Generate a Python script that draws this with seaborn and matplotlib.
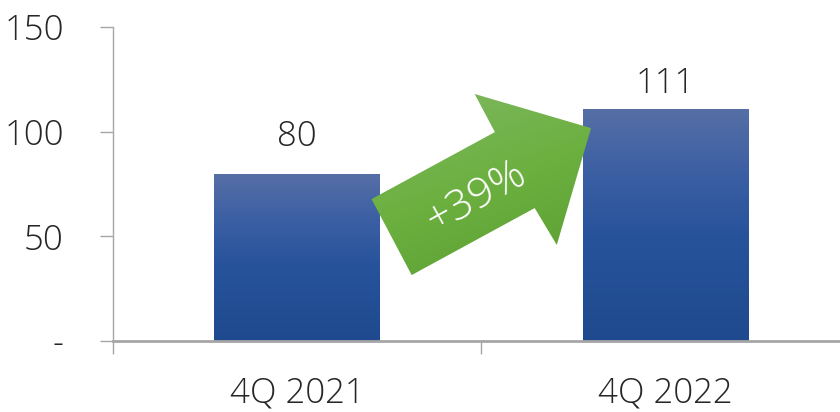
import numpy as np
import pandas as pd
import matplotlib
matplotlib.use("Agg")
import matplotlib.pyplot as plt
import seaborn as sns
from matplotlib.patches import Polygon
from matplotlib.colors import LinearSegmentedColormap

# data
quarters = ["4Q 2021", "4Q 2022"]
values = [80, 111]
growth_label = "+39%"
y_ticks = [0, 50, 100, 150]
y_tick_labels = ["-", "50", "100", "150"]

df = pd.DataFrame({"quarter": quarters, "value": values})

sns.set_theme(style="white")
plt.rcParams["font.family"] = ["Open Sans", "DejaVu Sans"]
plt.rcParams["font.weight"] = "light"

fig = plt.figure(figsize=(8.4, 4.12), dpi=100)
ax = fig.add_axes([113 / 840, 71 / 412, 727 / 840, 314 / 412])

sns.barplot(data=df, x="quarter", y="value", width=0.45, ax=ax, color="#1f4a8f")

# gradient fill on bars
bar_cmap = LinearSegmentedColormap.from_list(
    "bar", [(0.0, "#1f4a8f"), (0.45, "#27539b"), (0.7, "#3a5ea3"), (1.0, "#566fa6")])
grad = np.linspace(0, 1, 256).reshape(-1, 1)
label_gap = [13, 7.5]
for p, gap in zip(ax.patches, label_gap):
    x0, y0 = p.get_x(), p.get_y()
    w, h = p.get_width(), p.get_height()
    im = ax.imshow(grad, cmap=bar_cmap, origin="lower", aspect="auto",
                   extent=(x0, x0 + w, y0, y0 + h), zorder=2)
    im.set_clip_path(p)
    p.set_facecolor("none")
    p.set_edgecolor("none")
    ax.text(x0 + w / 2, y0 + h + gap, f"{h:.0f}", ha="center", va="baseline",
            fontsize=25, color="#262626", fontweight="light")

# growth arrow between the bars
arrow_pts = [(0.202, 67.8), (0.537, 99.8), (0.482, 118.0), (0.798, 101.7),
             (0.705, 45.9), (0.645, 63.5), (0.311, 31.5)]
arrow = Polygon(arrow_pts, closed=True, facecolor="none", edgecolor="none", zorder=3)
ax.add_patch(arrow)
green_cmap = LinearSegmentedColormap.from_list("grn", ["#5a9e32", "#6cb040", "#80b862"])
gx, gy = np.meshgrid(np.linspace(0, 1, 100), np.linspace(0, 1, 100))
ggrad = (gy * 0.7 + (1 - gx) * 0.3)
gim = ax.imshow(ggrad, cmap=green_cmap, origin="lower", aspect="auto",
                extent=(0.2, 0.8, 31, 118), zorder=3)
gim.set_clip_path(arrow)
ax.text(0.488, 68.8, growth_label, rotation=29, rotation_mode="anchor",
        ha="center", va="center", fontsize=31, color="white",
        fontweight="light", zorder=4)

# axes styling
sns.despine(ax=ax, top=True, right=True)
ax.spines["left"].set_color("#a6a6a6")
ax.spines["left"].set_linewidth(1.0)
ax.spines["bottom"].set_color("#a6a6a6")
ax.spines["bottom"].set_linewidth(2.0)
ax.spines["bottom"].set_zorder(5)

ax.set_yticks(y_ticks)
ax.set_yticklabels(y_tick_labels)
ax.tick_params(axis="y", direction="out", length=9.5, width=1.0, color="#a6a6a6",
               pad=26, labelsize=25, labelcolor="#262626", left=True)
ax.set_xticks([0, 1])
ax.set_xticks([-0.5, 0.5, 1.5], minor=True)
ax.tick_params(axis="x", which="major", length=0, pad=25, labelsize=25,
               labelcolor="#262626")
ax.tick_params(axis="x", which="minor", direction="out", length=9, width=1.0,
               color="#a6a6a6", bottom=True)
for lbl in ax.get_xticklabels() + ax.get_yticklabels():
    lbl.set_fontweight("light")

ax.set_xlabel("")
ax.set_ylabel("")
ax.grid(False)

ax.set_xlim(-0.5, 1.474)
ax.set_ylim(0, 150)

fig.savefig("out.png", dpi=100)
